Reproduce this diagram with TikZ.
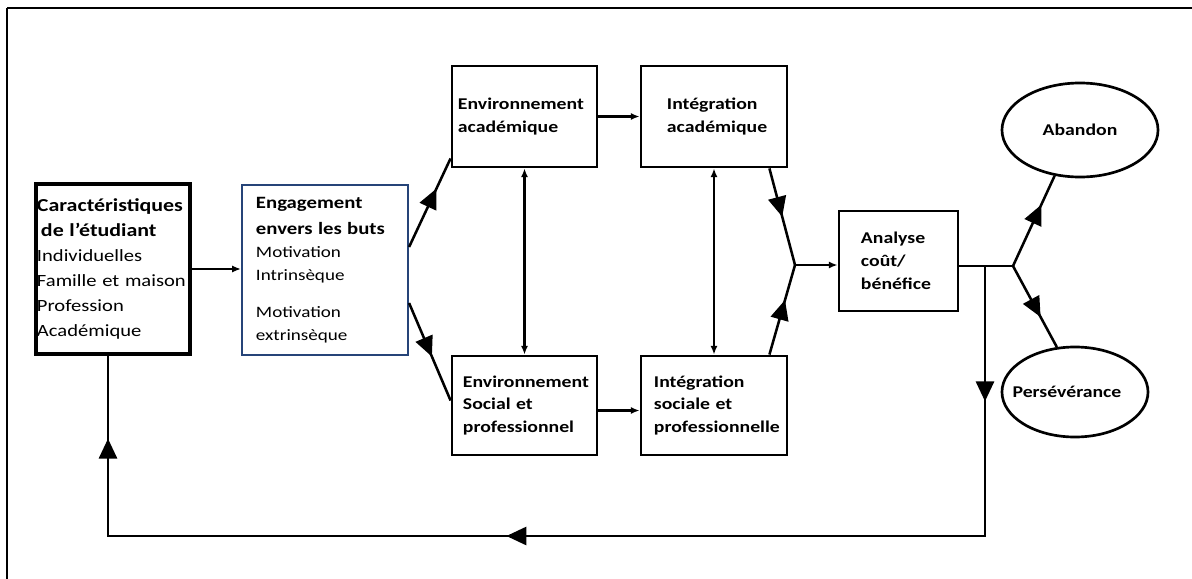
\documentclass[tikz,border=0pt]{standalone}
\usepackage{fontspec}
\setmainfont{Carlito}[FakeStretch=1.2]
\usetikzlibrary{arrows.meta,decorations.markings,shapes.geometric}
\definecolor{bleuboite}{RGB}{38,68,120}

\begin{document}
\begin{tikzpicture}[x=0.025cm,y=-0.025cm]

\useasboundingbox (0,0) rectangle (1192,579);

% définition des styles
\tikzstyle{boite}=[draw,line width=2pt,inner ysep=0pt,align=left,execute at begin node={\hyphenpenalty=10000},font=\bfseries\fontsize{11.7}{16.2}\selectfont]
\tikzstyle{bulle}=[ellipse,draw,line width=1.9pt,inner sep=0pt,font=\bfseries\fontsize{11.7}{14}\selectfont]
\tikzstyle{trait}=[line width=1.8pt]
\tikzstyle{fleche}=[-{Latex[length=2.2mm,width=1.8mm]},line width=1.8pt]
\tikzstyle{fleches}=[{Latex[length=2.2mm,width=1.8mm]}-{Latex[length=2.2mm,width=1.8mm]},line width=1.8pt]
\tikzset{pointe/.style={postaction={decorate},decoration={markings,mark=at position #1 with {\arrow{Triangle[length=5mm,width=4.5mm]}}}}}
\tikzstyle{boucle}=[line width=2pt,postaction={decorate},decoration={markings,
  mark=at position 0.102 with {\arrow{Triangle[length=5mm,width=4.5mm]}},
  mark=at position 0.564 with {\arrow{Triangle[length=5mm,width=4.5mm]}},
  mark=at position 0.9375 with {\arrow{Triangle[length=5mm,width=4.5mm]}}}]

% le cadre
\draw[line width=1.4pt] (7,8) -- (1192,8);
\draw[line width=2pt] (7,8) -- (7,579);

% les boîtes
\node[boite,line width=2.3pt,text width=3.8cm,inner xsep=0.025cm,minimum height=4.25cm,font=\fontsize{12.2}{17.8}\selectfont] (caract) at (113,269)
  {{\fontsize{13}{17.8}\selectfont\bfseries Caractéristiques}\\
   {\fontsize{13}{17.8}\selectfont\bfseries\hspace*{0.1cm}de l’étudiant}\\
   Individuelles\\ Famille et maison\\ Profession\\ Académique};
\node[boite,draw=bleuboite,line width=1.5pt,text width=3.45cm,inner xsep=0.35cm,minimum height=4.25cm,font=\fontsize{11.3}{16.3}\selectfont] (engagement) at (325,270)
  {{\fontsize{12.3}{18}\selectfont\bfseries Engagement}\\[2.2pt]
   {\fontsize{12.3}{18}\selectfont\bfseries envers les buts}\\
   Motivation\\ Intrinsèque\\[10pt] Motivation\\ extrinsèque};
\node[boite,text width=3.325cm,inner xsep=0.15cm,minimum height=2.525cm] (envac) at (524.5,116.5) {Environnement\\ académique};
\node[boite,text width=2.35cm,inner xsep=0.65cm,minimum height=2.525cm] (intac) at (714,116.5) {Intégration\\ académique};
\node[boite,text width=3.075cm,inner xsep=0.275cm,minimum height=2.475cm] (envso) at (524.5,405.5) {Environnement\\ Social et\\ professionnel};
\node[boite,text width=3.0cm,inner xsep=0.325cm,minimum height=2.475cm] (intso) at (714,405.5) {Intégration\\ sociale et\\ professionnelle};
\node[boite,text width=1.875cm,inner xsep=0.55cm,minimum height=2.5cm] (analyse) at (898.5,261) {Analyse\\ coût/\\ bénéfice};

% les ellipses
\node[bulle,minimum width=3.9cm,minimum height=2.35cm] (abandon) at (1080,130) {\makebox[0pt]{Abandon}};
\node[bulle,minimum width=3.65cm,minimum height=2.25cm] (perseverance) at (1075,392) {\makebox[0pt]{Persévérance\hspace{0.4cm}}};

% les points de jonction
\coordinate (j1) at (795,265);
\coordinate (j2) at (1013,266);
\coordinate (retour) at (985,266);
\coordinate (coin) at (985,536);

% les flèches
\draw[fleche] (caract.east) -- (caract.east -| engagement.west);
\draw[trait,pointe=0.66] ([shift={(0,-23)}]engagement.east) -- ([shift={(0,-10)}]envac.south west);
\draw[trait,pointe=0.55] ([shift={(0,33)}]engagement.east) -- ([shift={(0,-5)}]envso.west);
\draw[fleche] (envac.east) -- (intac.west);
\draw[fleche] ([shift={(0,5)}]envso.east) -- ([shift={(0,5)}]intso.west);
\draw[fleches] (envac) -- (envso);
\draw[fleches] (intac) -- (intso);
\draw[trait,pointe=0.5] ([shift={(-19,0)}]intac.south east) -- (j1);
\draw[trait,pointe=0.61] ([shift={(-19,0)}]intso.north east) -- (j1);
\draw[fleche] (j1) -- (j1 -| analyse.west);
\draw[trait] (analyse.east |- j2) -- (j2);
\draw[trait,pointe=0.68] (j2) -- (abandon.241);
\draw[trait,pointe=0.63] (j2) -- (perseverance.112);

% la boucle de retour
\draw[boucle] (retour) -- (coin) -| ([shift={(-5,0)}]caract.south);

\end{tikzpicture}
\end{document}
